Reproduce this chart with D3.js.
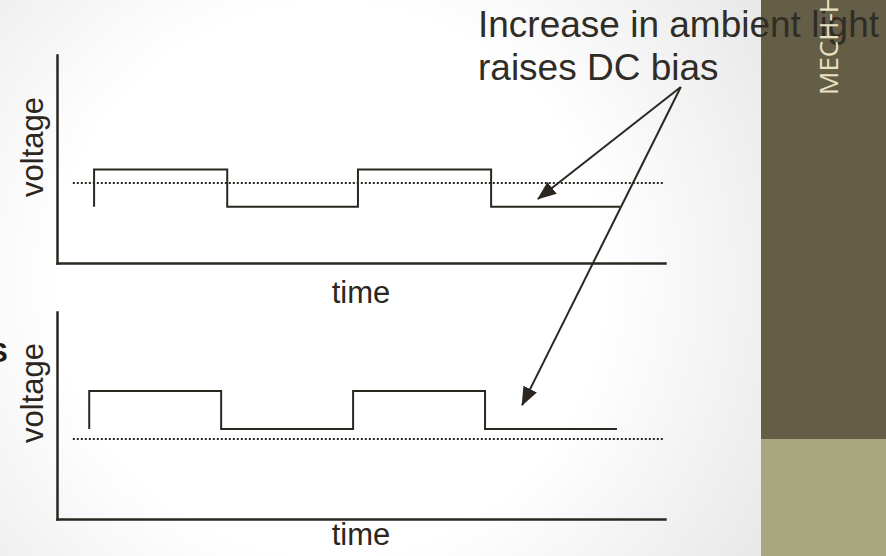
<!DOCTYPE html>
<html>
<head>
	<meta charset="utf-8">
	<title>Ambient light DC bias</title>
</head>
<body>

<svg class="bias"></svg>

<style type="text/css">
	body {
		margin: 0;
	}

	.bias {
		display: block;
		width: 886px;
		height: 556px;
		font-family: "Liberation Sans", Arial, sans-serif;
	}

	.bias .axis path {
		stroke: #2b2720;
		stroke-width: 2.5px;
	}

	.bias .wave {
		fill: none;
		stroke: #2b2720;
		stroke-width: 2px;
	}

	.bias .dc {
		stroke: #2b2720;
		stroke-width: 2px;
		stroke-dasharray: 2 2;
	}

	.bias .arrow {
		stroke: #2b2720;
		stroke-width: 2px;
	}

	.bias .label {
		fill: #2b2720;
		font-size: 31px;
	}

	.bias .note {
		fill: #302d27;
		font-size: 37px;
	}
</style>

<script src="https://d3js.org/d3.v7.min.js"></script>
<script type="text/javascript">
	// values (time 0..100, voltage 0..10 for each panel)
	var timeDomain = [0, 100]
	var voltDomain = [0, 10]

	var topWaveT = [6.1, 6.1, 28.0, 49.5, 71.4, 92.6]
	var topWaveV = [2.7, 4.5, 2.7, 4.5, 2.7, 2.7]
	var topBias = 3.85

	var bottomWaveT = [5.3, 5.3, 27.0, 48.7, 70.4, 92.1]
	var bottomWaveV = [4.35, 6.18, 4.35, 6.18, 4.35, 4.35]
	var bottomBias = 3.86

	var biasSpan = [2.6, 99.7]

	var xLabel = 'time'
	var yLabel = 'voltage'
	var noteLines = ['Increase in ambient light', 'raises DC bias']
	var sideText = 'MECH-H'

	// arrow tail in top panel coordinates, tips in each panel
	var noteFrom = [102.6, 8.46]
	var noteTips = [[79.1, 3.08], [76.5, 5.5]]

	var width = 886
	var height = 556

	var svg = d3.select('.bias')
		.attr('viewBox', [0, 0, width, height])

	var defs = svg.append('defs')

	var bg = defs.append('radialGradient')
		.attr('id', 'bg')
		.attr('gradientUnits', 'userSpaceOnUse')
		.attr('cx', 330).attr('cy', 280).attr('r', 500)
	bg.append('stop').attr('offset', 0.55).attr('stop-color', '#ffffff')
	bg.append('stop').attr('offset', 1).attr('stop-color', '#e9e9e9')

	defs.append('marker')
		.attr('id', 'head')
		.attr('markerUnits', 'userSpaceOnUse')
		.attr('viewBox', '0 0 19 15')
		.attr('markerWidth', 19)
		.attr('markerHeight', 15)
		.attr('refX', 18)
		.attr('refY', 7.5)
		.attr('orient', 'auto')
		.append('path')
		.attr('d', 'M0,0L19,7.5L0,15Z')
		.attr('fill', '#2b2720')

	svg.append('rect')
		.attr('width', width)
		.attr('height', height)
		.attr('fill', 'url(#bg)')

	// side band of the slide
	svg.append('rect')
		.attr('x', 761).attr('y', 0)
		.attr('width', width - 761).attr('height', 439)
		.attr('fill', '#655e47')
	svg.append('rect')
		.attr('x', 761).attr('y', 439)
		.attr('width', width - 761).attr('height', height - 439)
		.attr('fill', '#a9a77d')

	var panels = [
		{ t: topWaveT, v: topWaveV, bias: topBias, y: [263, 55], xLab: 303, yLab: 147 },
		{ t: bottomWaveT, v: bottomWaveV, bias: bottomBias, y: [519, 312], xLab: 545, yLab: 393 }
	]

	panels.forEach(function(p) {
		p.x = d3.scaleLinear().domain(timeDomain).range([57, 665])
		p.yScale = d3.scaleLinear().domain(voltDomain).range(p.y)

		var g = svg.append('g')

		g.append('g')
			.attr('class', 'axis')
			.attr('transform', 'translate(0,' + p.y[0] + ')')
			.call(d3.axisBottom(p.x).ticks(0).tickSizeOuter(0))

		g.append('g')
			.attr('class', 'axis')
			.attr('transform', 'translate(' + p.x(0) + ',0)')
			.call(d3.axisLeft(p.yScale).ticks(0).tickSizeOuter(0))

		g.selectAll('.domain').attr('stroke-linecap', 'square')

		g.append('line')
			.attr('class', 'dc')
			.attr('x1', p.x(biasSpan[0]))
			.attr('x2', p.x(biasSpan[1]))
			.attr('y1', p.yScale(p.bias))
			.attr('y2', p.yScale(p.bias))

		var line = d3.line()
			.x(function(d) { return p.x(d[0]) })
			.y(function(d) { return p.yScale(d[1]) })
			.curve(d3.curveStepAfter)

		g.append('path')
			.attr('class', 'wave')
			.attr('d', line(d3.zip(p.t, p.v)))

		g.append('text')
			.attr('class', 'label')
			.attr('x', (p.x.range()[0] + p.x.range()[1]) / 2)
			.attr('y', p.xLab)
			.attr('text-anchor', 'middle')
			.text(xLabel)

		g.append('text')
			.attr('class', 'label')
			.attr('transform', 'translate(43,' + p.yLab + ') rotate(-90)')
			.attr('text-anchor', 'middle')
			.text(yLabel)
	})

	// annotation
	svg.selectAll('.note')
		.data(noteLines)
		.enter()
		.append('text')
		.attr('class', 'note')
		.attr('x', 478)
		.attr('y', function(d, i) { return 37 + i * 43 })
		.text(function(d) { return d })

	var fx = panels[0].x(noteFrom[0])
	var fy = panels[0].yScale(noteFrom[1])

	svg.selectAll('.arrow')
		.data(noteTips)
		.enter()
		.append('line')
		.attr('class', 'arrow')
		.attr('x1', fx)
		.attr('y1', fy)
		.attr('x2', function(d, i) { return panels[i].x(d[0]) })
		.attr('y2', function(d, i) { return panels[i].yScale(d[1]) })
		.attr('marker-end', 'url(#head)')

	// cut-off glyph at the left edge, as on the slide
	svg.append('text')
		.attr('x', -11)
		.attr('y', 362)
		.attr('font-size', 28)
		.attr('font-weight', 'bold')
		.attr('fill', '#1e1b16')
		.text('S')

	svg.append('text')
		.attr('transform', 'translate(838,95) rotate(-90)')
		.attr('font-family', '"Open Sans", sans-serif')
		.attr('font-size', 26)
		.attr('fill', '#e9e2c2')
		.text(sideText)
</script>
</body>
</html>
